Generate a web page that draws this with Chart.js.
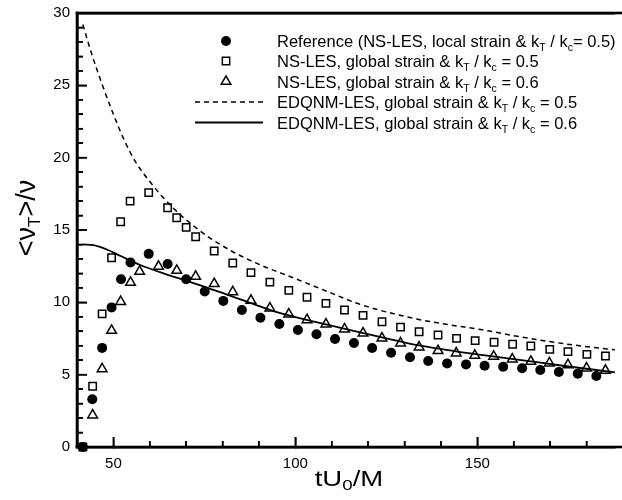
<!DOCTYPE html>
<html>
<head>
<meta charset="utf-8">
<script src="https://cdn.jsdelivr.net/npm/chart.js@4.4.1/dist/chart.umd.min.js"></script>
<style>
  html, body { margin: 0; padding: 0; background: #fff; }
  canvas { display: block; }
</style>
</head>
<body>
<canvas id="c" width="622" height="500"></canvas>
<script>
// Reference run: NS-LES, local strain, kT/kc = 0.5 (filled circles)
const timeRef = [41.6, 44.2, 46.9, 49.5, 52.1, 54.7, 59.7, 64.9, 70.0, 75.1, 80.2, 85.3, 90.4, 95.6, 100.7, 105.8, 110.9, 116.1, 121.1, 126.3, 131.5, 136.5, 141.7, 146.9, 152.0, 157.1, 162.3, 167.3, 172.4, 177.6, 182.7];
const nuRef   = [0, 3.3, 6.85, 9.65, 11.6, 12.75, 13.35, 12.65, 11.6, 10.75, 10.1, 9.47, 8.94, 8.5, 8.09, 7.79, 7.46, 7.19, 6.84, 6.52, 6.2, 5.94, 5.78, 5.71, 5.62, 5.55, 5.44, 5.32, 5.18, 5.07, 4.91];

// NS-LES, global strain, kT/kc = 0.5 (open squares)
const timeGlobal05 = [41.6, 44.3, 46.9, 49.5, 52.0, 54.6, 59.7, 64.9, 67.4, 70.0, 72.6, 77.7, 82.8, 87.8, 93.0, 98.2, 103.2, 108.4, 113.5, 118.6, 123.8, 128.9, 134.0, 139.2, 144.3, 149.4, 154.6, 159.7, 164.7, 169.9, 174.9, 180.1, 185.2];
const nuGlobal05   = [0, 4.2, 9.2, 13.08, 15.57, 17.0, 17.58, 16.54, 15.85, 15.18, 14.53, 13.55, 12.72, 12.05, 11.4, 10.83, 10.35, 9.93, 9.47, 9.1, 8.66, 8.29, 7.97, 7.74, 7.51, 7.35, 7.24, 7.1, 6.98, 6.75, 6.59, 6.4, 6.29];

// NS-LES, global strain, kT/kc = 0.6 (open triangles)
const timeGlobal06 = [44.3, 46.9, 49.5, 52.0, 54.7, 57.2, 62.4, 67.4, 72.6, 77.7, 82.8, 87.8, 93.0, 98.2, 103.2, 108.4, 113.5, 118.6, 123.8, 128.9, 134.0, 139.2, 144.2, 149.3, 154.5, 159.6, 164.7, 169.8, 174.9, 180.0, 185.2];
const nuGlobal06   = [2.2, 5.4, 8.05, 10.05, 11.37, 12.13, 12.48, 12.2, 11.79, 11.28, 10.72, 10.13, 9.6, 9.18, 8.79, 8.49, 8.15, 7.87, 7.52, 7.18, 6.9, 6.65, 6.49, 6.33, 6.26, 6.07, 5.91, 5.8, 5.68, 5.45, 5.29];

// EDQNM-LES, global strain, kT/kc = 0.5 (dashed curve)
const timeEdqnm05 = [41.6, 44.0, 47.0, 50.0, 53.0, 56.0, 60.0, 66.3, 73.5, 81.7, 90.7, 99.8, 108.8, 117.9, 133.3, 142.3, 151.4, 160.5, 169.5, 178.6, 187.8];
const nuEdqnm05   = [29.2, 27.2, 25.0, 23.0, 21.2, 19.75, 18.35, 16.55, 15.0, 13.65, 12.55, 11.66, 10.75, 9.85, 8.85, 8.45, 8.1, 7.67, 7.3, 6.98, 6.72];

// EDQNM-LES, global strain, kT/kc = 0.6 (solid curve)
const timeEdqnm06 = [41.6, 44.5, 48.2, 52.0, 57.2, 64.0, 70.8, 77.0, 82.8, 88.0, 93.0, 100.0, 108.4, 116.0, 123.8, 134.0, 147.0, 160.5, 174.0, 187.8];
const nuEdqnm06   = [14.0, 13.95, 13.65, 13.2, 12.6, 11.98, 11.43, 10.9, 10.4, 9.92, 9.48, 8.98, 8.47, 8.02, 7.58, 7.02, 6.5, 6.06, 5.6, 5.16];

// Axis ticks
const xMajorTicks = [50, 100, 150];
const xMinorTicks = [60, 70, 80, 90, 110, 120, 130, 140, 160, 170, 180];
const yMajorTicks = [0, 5, 10, 15, 20, 25, 30];
const yMinorTicks = [1, 2, 3, 4, 6, 7, 8, 9, 11, 12, 13, 14, 16, 17, 18, 19, 21, 22, 23, 24, 26, 27, 28, 29];

// Text (subscripts written as _{...})
const xTitle = 'tU_{0}/M';
const yTitle = '<\u03bd_{T}>/\u03bd';
const legendLabels = [
  'Reference (NS-LES, local strain & k_{T} / k_{c}= 0.5)',
  'NS-LES, global strain & k_{T} / k_{c} = 0.5',
  'NS-LES, global strain & k_{T} / k_{c} = 0.6',
  'EDQNM-LES, global strain & k_{T} / k_{c} = 0.5',
  'EDQNM-LES, global strain & k_{T} / k_{c} = 0.6'
];

const FONT = "'Liberation Sans', Arial, Helvetica, sans-serif";
Chart.defaults.font.family = FONT;
Chart.defaults.color = '#000';

const X_MIN = 40, X_MAX = 187.8, Y_MIN = 0, Y_MAX = 30;
const AXIS_W = 2.6, TICK_W = 1.6;

const pairs = (xs, ys) => xs.map((v, i) => ({ x: v, y: ys[i] }));

const datasets = [
  { data: pairs(timeRef, nuRef), pointStyle: 'circle', pointRadius: 5,
    backgroundColor: '#000', borderColor: '#000', borderWidth: 0, showLine: false, clip: false },
  { data: pairs(timeGlobal05, nuGlobal05), pointStyle: 'rect', pointRadius: 5.2,
    backgroundColor: 'rgba(0,0,0,0)', borderColor: '#000', borderWidth: 1.5, showLine: false, clip: false },
  { data: pairs(timeGlobal06, nuGlobal06), pointStyle: 'triangle', pointRadius: 5.6,
    backgroundColor: 'rgba(0,0,0,0)', borderColor: '#000', borderWidth: 1.5, showLine: false, clip: false },
  { data: pairs(timeEdqnm05, nuEdqnm05), showLine: true, pointRadius: 0, borderColor: '#000',
    borderWidth: 1.5, borderDash: [5, 4], cubicInterpolationMode: 'monotone', fill: false },
  { data: pairs(timeEdqnm06, nuEdqnm06), showLine: true, pointRadius: 0, borderColor: '#000',
    borderWidth: 1.8, cubicInterpolationMode: 'monotone', fill: false }
];

// Text with _{...} subscripts
function parseRich(text) {
  const parts = [];
  const re = /_\{([^}]*)\}/g;
  let last = 0, m;
  while ((m = re.exec(text)) !== null) {
    if (m.index > last) parts.push({ t: text.slice(last, m.index), sub: false });
    parts.push({ t: m[1], sub: true });
    last = re.lastIndex;
  }
  if (last < text.length) parts.push({ t: text.slice(last), sub: false });
  return parts;
}
function drawRich(ctx, text, x, y, size, subSize, subDy, align) {
  const parts = parseRich(text);
  const widths = parts.map(p => {
    ctx.font = `${p.sub ? subSize : size}px ${FONT}`;
    return ctx.measureText(p.t).width;
  });
  const total = widths.reduce((a, b) => a + b, 0);
  let cx = align === 'center' ? x - total / 2 : x;
  ctx.textAlign = 'left';
  ctx.textBaseline = 'alphabetic';
  parts.forEach((p, i) => {
    ctx.font = `${p.sub ? subSize : size}px ${FONT}`;
    ctx.fillText(p.t, cx, y + (p.sub ? subDy : 0));
    cx += widths[i];
  });
}

// Axis frame (left, bottom, top) with inward ticks, placed from the chart's scales
function drawFrame(chart) {
  const ctx = chart.ctx;
  const ca = chart.chartArea;
  const xs = chart.scales.x, ys = chart.scales.y;
  const L = ca.left, B = ca.bottom, T = ca.top, W = chart.width;
  ctx.save();
  ctx.fillStyle = '#000';
  ctx.fillRect(L - AXIS_W / 2, T - AXIS_W / 2, AXIS_W, B - T + AXIS_W);
  ctx.fillRect(L - AXIS_W / 2, B - AXIS_W / 2, W - L + AXIS_W, AXIS_W);
  ctx.fillRect(L - AXIS_W / 2, T - AXIS_W / 2, W - L + AXIS_W, AXIS_W);
  yMajorTicks.concat(yMinorTicks).forEach(v => {
    const py = ys.getPixelForValue(v);
    const len = yMajorTicks.includes(v) ? 10 : 6;
    ctx.fillRect(L, py - TICK_W / 2, len, TICK_W);
  });
  xMajorTicks.concat(xMinorTicks).forEach(v => {
    const px = xs.getPixelForValue(v);
    const len = xMajorTicks.includes(v) ? 10 : 6;
    ctx.fillRect(px - TICK_W / 2, B - len, TICK_W, len);
  });
  ctx.restore();
}

function drawTitles(chart) {
  const ctx = chart.ctx;
  const ca = chart.chartArea;
  ctx.save();
  ctx.fillStyle = '#000';
  // x axis title (wide lettering)
  ctx.save();
  ctx.translate((ca.left + ca.right) / 2 + 3, 486);
  ctx.scale(1.25, 1);
  drawRich(ctx, xTitle, 0, 0, 22, 15, 4, 'center');
  ctx.restore();
  // y axis title, rotated
  ctx.save();
  ctx.translate(35, 218);
  ctx.rotate(-Math.PI / 2);
  drawRich(ctx, yTitle, 0, 0, 27, 17, 5, 'center');
  ctx.restore();
  ctx.restore();
}

function drawLegend(chart) {
  const ctx = chart.ctx;
  const rowY = [41, 61, 81.5, 102, 122.5];
  const markX = 226, textX = 277;
  for (let i = 0; i < 5; i++) {
    const ds = chart.data.datasets[i];
    const yy = rowY[i];
    ctx.save();
    if (i < 3) {
      ctx.fillStyle = ds.backgroundColor;
      ctx.strokeStyle = ds.borderColor;
      ctx.lineWidth = ds.borderWidth;
      Chart.helpers.drawPoint(ctx, { pointStyle: ds.pointStyle, radius: ds.pointRadius, rotation: 0, borderWidth: ds.borderWidth }, markX, yy);
    } else {
      ctx.strokeStyle = '#000';
      ctx.lineWidth = ds.borderWidth;
      ctx.setLineDash(ds.borderDash || []);
      ctx.beginPath();
      ctx.moveTo(195, yy);
      ctx.lineTo(263, yy);
      ctx.stroke();
    }
    ctx.restore();
    ctx.save();
    ctx.fillStyle = '#000';
    drawRich(ctx, legendLabels[i], textX, yy + 6, 16.5, 10.5, 4, 'left');
    ctx.restore();
  }
}

const decorations = {
  id: 'decorations',
  afterDraw(chart) {
    drawTitles(chart);
    drawLegend(chart);
  },
  afterRender(chart) {
    drawFrame(chart);
  }
};

// Inward tick marks come from negative tick lengths; minor ticks live on zero-size companion axes
const tickGrid = len => ({ display: true, drawOnChartArea: false, drawTicks: true, tickLength: len,
                           color: '#000', lineWidth: TICK_W });
const noPad = s => { s.paddingLeft = 0; s.paddingRight = 0; s.paddingTop = 0; s.paddingBottom = 0; };

new Chart(document.getElementById('c'), {
  type: 'scatter',
  data: { datasets },
  options: {
    responsive: false,
    animation: false,
    events: [],
    layout: { padding: { top: 13, right: 1, left: 0, bottom: 0 } },
    plugins: { legend: { display: false }, tooltip: { enabled: false } },
    scales: {
      x: {
        type: 'linear', axis: 'x', position: 'bottom', weight: 1, min: X_MIN, max: X_MAX,
        afterBuildTicks: s => { s.ticks = xMajorTicks.map(v => ({ value: v })); },
        afterFit: s => { s.height = 53; noPad(s); },
        ticks: { font: { size: 15 }, color: '#000', padding: 18, maxRotation: 0, autoSkip: false },
        grid: tickGrid(-10),
        border: { display: true, color: '#000', width: AXIS_W }
      },
      xMinor: {
        type: 'linear', axis: 'x', position: 'bottom', weight: 0, min: X_MIN, max: X_MAX,
        afterBuildTicks: s => { s.ticks = xMinorTicks.map(v => ({ value: v })); },
        afterFit: s => { s.height = 0; noPad(s); },
        ticks: { display: false },
        grid: tickGrid(-6),
        border: { display: false }
      },
      xTop: {
        type: 'linear', axis: 'x', position: 'top', min: X_MIN, max: X_MAX,
        afterBuildTicks: s => { s.ticks = xMajorTicks.map(v => ({ value: v })); },
        afterFit: s => { s.height = 0; noPad(s); },
        ticks: { display: false },
        grid: { display: false, drawTicks: false },
        border: { display: true, color: '#000', width: AXIS_W }
      },
      y: {
        type: 'linear', axis: 'y', position: 'left', weight: 1, min: Y_MIN, max: Y_MAX,
        afterBuildTicks: s => { s.ticks = yMajorTicks.map(v => ({ value: v })); },
        afterFit: s => { s.width = 77; noPad(s); },
        ticks: { font: { size: 15 }, color: '#000', padding: 17, autoSkip: false },
        grid: tickGrid(-10),
        border: { display: true, color: '#000', width: AXIS_W }
      },
      yMinor: {
        type: 'linear', axis: 'y', position: 'left', weight: 0, min: Y_MIN, max: Y_MAX,
        afterBuildTicks: s => { s.ticks = yMinorTicks.map(v => ({ value: v })); },
        afterFit: s => { s.width = 0; noPad(s); },
        ticks: { display: false },
        grid: tickGrid(-6),
        border: { display: false }
      }
    }
  },
  plugins: [decorations]
});
</script>
</body>
</html>
